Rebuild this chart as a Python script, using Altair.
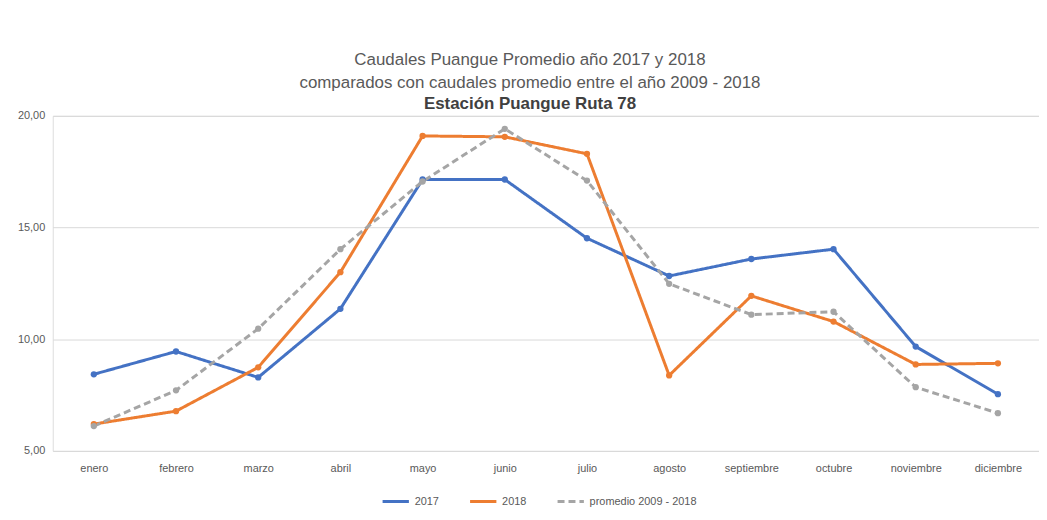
import altair as alt
import pandas as pd

meses = ["enero", "febrero", "marzo", "abril", "mayo", "junio", "julio",
         "agosto", "septiembre", "octubre", "noviembre", "diciembre"]
v2017 = [8.43, 9.45, 8.29, 11.36, 17.15, 17.15, 14.52, 12.83, 13.59, 14.03, 9.67, 7.54]
v2018 = [6.20, 6.78, 8.74, 13.00, 19.10, 19.06, 18.30, 8.38, 11.94, 10.79, 8.87, 8.92]
vprom = [6.11, 7.71, 10.47, 14.03, 17.06, 19.42, 17.10, 12.48, 11.10, 11.23, 7.85, 6.69]
series = ["2017", "2018", "promedio  2009 - 2018"]
colors = ["#4472C4", "#ED7D31", "#A5A5A5"]
dashes = [[1, 0], [1, 0], [7, 4]]

rows = []
for name, vals in zip(series, [v2017, v2018, vprom]):
    for m, v in zip(meses, vals):
        rows.append({"mes": m, "valor": v, "serie": name})
df = pd.DataFrame(rows)

FONT = "Liberation Sans, sans-serif"

x = alt.X("mes:N", sort=meses, title=None,
          scale=alt.Scale(type="point", padding=0.5),
          axis=alt.Axis(labelAngle=0, ticks=False, domain=False, labelPadding=12,
                        labelFontSize=11, labelColor="#595959", labelFont=FONT, grid=False))
y = alt.Y("valor:Q", title=None,
          scale=alt.Scale(domain=[5, 20], nice=False, zero=False),
          axis=alt.Axis(values=[5, 10, 15, 20], ticks=False, domain=False,
                        labelExpr="replace(format(datum.value, '.2f'), '.', ',')",
                        labelFontSize=11, labelColor="#595959", labelFont=FONT,
                        labelPadding=8, gridColor="#D9D9D9"))
color = alt.Color("serie:N", sort=series, title=None,
                  scale=alt.Scale(domain=series, range=colors),
                  legend=alt.Legend(orient="none", direction="horizontal",
                                    legendX=330, legendY=373,
                                    symbolType="stroke", symbolStrokeWidth=3,
                                    symbolSize=700, labelFontSize=11,
                                    labelColor="#595959", labelFont=FONT,
                                    columnPadding=24, labelOffset=4))
dash = alt.StrokeDash("serie:N", sort=series, title=None,
                      scale=alt.Scale(domain=series, range=dashes))

base = alt.Chart(df)
lines = base.mark_line(strokeWidth=3).encode(x=x, y=y, color=color, strokeDash=dash)
points = base.mark_point(filled=True, size=40, opacity=1, shape="circle").encode(
    x=x, y=y, color=alt.Color("serie:N", sort=series, scale=alt.Scale(domain=series, range=colors), legend=None))

chart = alt.layer(lines, points).properties(
    width=992, height=337,
    title=alt.Title(
        text=["Caudales Puangue Promedio año 2017 y 2018",
              "comparados con caudales promedio entre el año 2009 - 2018"],
        subtitle="Estación Puangue Ruta 78",
        fontSize=17, subtitleFontSize=17, fontWeight="normal",
        subtitleFontWeight="bold", color="#595959", subtitleColor="#404040",
        font=FONT, subtitleFont=FONT, lineHeight=23, subtitlePadding=4,
        anchor="middle", dx=-16, offset=-3),
    autosize=alt.AutoSizeParams(type="none"),
    padding={"left": 45, "top": 107, "right": 0, "bottom": 60},
).configure_view(stroke=None).configure(background="white")

chart.save("out.html", embed_options={"renderer": "svg", "actions": False})
